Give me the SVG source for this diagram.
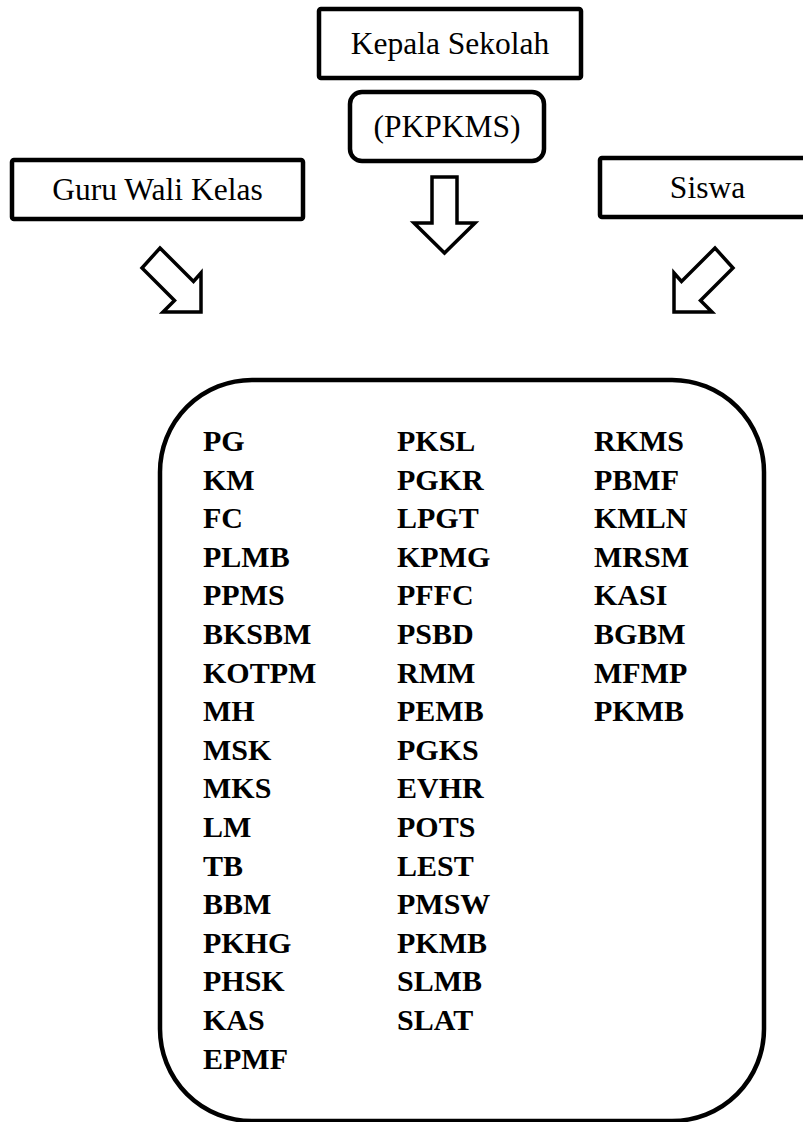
<svg xmlns="http://www.w3.org/2000/svg" width="803" height="1122" viewBox="0 0 803 1122">
<style>
.box{fill:#fff;stroke:#000;stroke-width:4.5}
.lbl{font-family:"Liberation Serif","Times New Roman",serif;font-size:31.5px;fill:#000;text-anchor:middle}
.arrow{fill:#fff;stroke:#000;stroke-width:3.5;stroke-linejoin:miter}
.item{font-family:"Liberation Serif","Times New Roman",serif;font-size:30px;font-weight:bold;fill:#000}
</style>
<rect width="803" height="1122" fill="#fff"/>
<g id="kepala-sekolah">
<rect class="box" x="319" y="9" width="262" height="69" rx="2"/>
<text class="lbl" x="450" y="54">Kepala Sekolah</text>
</g>
<g id="pkpkms">
<rect class="box" x="350" y="92" width="194" height="69" rx="12"/>
<text class="lbl" x="447" y="137">(PKPKMS)</text>
</g>
<g id="guru-wali-kelas">
<rect class="box" x="12" y="160" width="291" height="59" rx="2"/>
<text class="lbl" x="157.5" y="200">Guru Wali Kelas</text>
</g>
<g id="siswa">
<rect class="box" x="600" y="158" width="230" height="59" rx="2"/>
<text class="lbl" x="707.5" y="198">Siswa</text>
</g>
<g id="connectors">
<polygon class="arrow" points="160,248 193.5,281.5 201,273 201,312 163,312 174.5,300.5 142,268"/>
<polygon class="arrow" points="432,177 457,177 457,223 475,223 444.5,253 414,223 432,223"/>
<polygon class="arrow" points="715,248 681.5,281.5 674,273 674,312 712,312 700.5,300.5 733,268"/>
</g>
<g id="daftar">
<rect class="box" x="160" y="380" width="604" height="741" rx="92"/>
<text class="item" x="203" y="451">PG</text>
<text class="item" x="203" y="489.6">KM</text>
<text class="item" x="203" y="528.2">FC</text>
<text class="item" x="203" y="566.8">PLMB</text>
<text class="item" x="203" y="605.4">PPMS</text>
<text class="item" x="203" y="644">BKSBM</text>
<text class="item" x="203" y="682.6">KOTPM</text>
<text class="item" x="203" y="721.2">MH</text>
<text class="item" x="203" y="759.8">MSK</text>
<text class="item" x="203" y="798.4">MKS</text>
<text class="item" x="203" y="837">LM</text>
<text class="item" x="203" y="875.6">TB</text>
<text class="item" x="203" y="914.2">BBM</text>
<text class="item" x="203" y="952.8">PKHG</text>
<text class="item" x="203" y="991.4">PHSK</text>
<text class="item" x="203" y="1030">KAS</text>
<text class="item" x="203" y="1068.6">EPMF</text>
<text class="item" x="397" y="451">PKSL</text>
<text class="item" x="397" y="489.6">PGKR</text>
<text class="item" x="397" y="528.2">LPGT</text>
<text class="item" x="397" y="566.8">KPMG</text>
<text class="item" x="397" y="605.4">PFFC</text>
<text class="item" x="397" y="644">PSBD</text>
<text class="item" x="397" y="682.6">RMM</text>
<text class="item" x="397" y="721.2">PEMB</text>
<text class="item" x="397" y="759.8">PGKS</text>
<text class="item" x="397" y="798.4">EVHR</text>
<text class="item" x="397" y="837">POTS</text>
<text class="item" x="397" y="875.6">LEST</text>
<text class="item" x="397" y="914.2">PMSW</text>
<text class="item" x="397" y="952.8">PKMB</text>
<text class="item" x="397" y="991.4">SLMB</text>
<text class="item" x="397" y="1030">SLAT</text>
<text class="item" x="594" y="451">RKMS</text>
<text class="item" x="594" y="489.6">PBMF</text>
<text class="item" x="594" y="528.2">KMLN</text>
<text class="item" x="594" y="566.8">MRSM</text>
<text class="item" x="594" y="605.4">KASI</text>
<text class="item" x="594" y="644">BGBM</text>
<text class="item" x="594" y="682.6">MFMP</text>
<text class="item" x="594" y="721.2">PKMB</text>
</g>
</svg>
